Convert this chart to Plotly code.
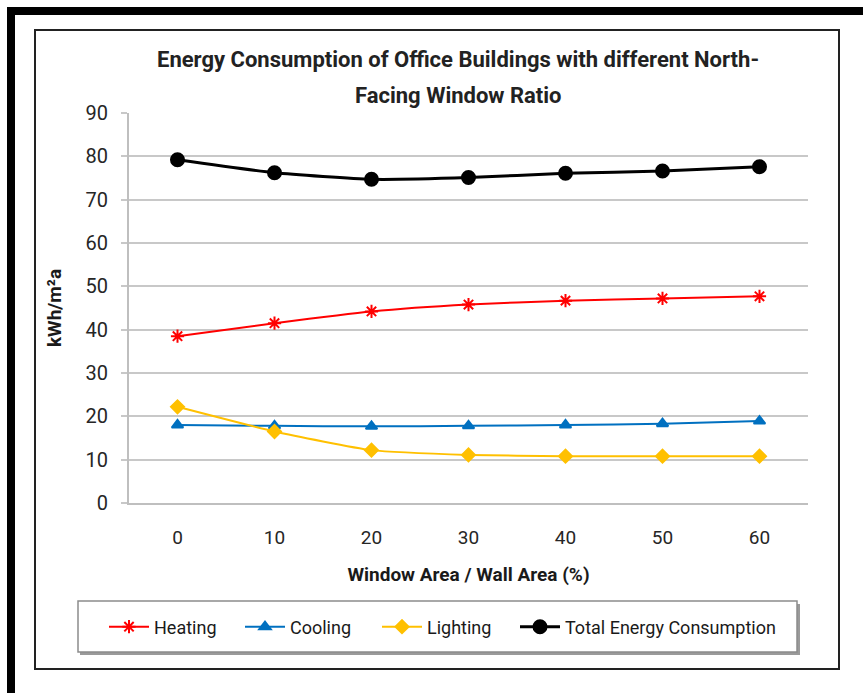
import plotly.graph_objects as go

# values (kWh/m²a)
window_ratio = [0, 10, 20, 30, 40, 50, 60]
heating = [38.5, 41.5, 44.2, 45.8, 46.7, 47.2, 47.7]
cooling = [18.0, 17.8, 17.7, 17.8, 18.0, 18.3, 18.9]
lighting = [22.2, 16.5, 12.2, 11.1, 10.8, 10.8, 10.8]
total = [79.2, 76.2, 74.7, 75.1, 76.1, 76.6, 77.6]

title_lines = ["Energy Consumption of Office Buildings with different North-", "Facing Window Ratio"]

FONT = "Roboto, Liberation Sans, sans-serif"
W, H = 863, 693
L, R, T, B = 129, 55, 113, 190
pw, ph = W - L - R, H - T - B


def px_x(x):
    return (x - L) / pw


def px_y(y):
    return (H - B - y) / ph


fig = go.Figure()
# name, values, colour, marker, size, line width, legend id, legend left edge (px)
series = [
    ("Heating", heating, "#FF0000", "asterisk-open", 11, 2, "legend", 104),
    ("Cooling", cooling, "#0070C0", "triangle-up", 10, 2, "legend2", 240),
    ("Lighting", lighting, "#FFC000", "diamond", 10, 2, "legend3", 377),
    ("Total Energy Consumption", total, "#000000", "circle", 13, 3, "legend4", 515),
]
legends = {}
for name, vals, col, sym, size, lw, leg, lx in series:
    fig.add_trace(go.Scatter(
        x=[str(v) for v in window_ratio], y=vals, name=name, mode="lines+markers",
        line=dict(color=col, width=lw, shape="spline", smoothing=0.5),
        marker=dict(color=col, symbol=sym, size=size, line=dict(color=col, width=2)),
        legend=leg,
    ))
    legends[leg] = dict(orientation="h", x=px_x(lx), xanchor="left", y=px_y(627), yanchor="middle",
                        bgcolor="rgba(0,0,0,0)", borderwidth=0, font=dict(size=18, color="#1a1a1a"),
                        itemwidth=40)

shapes = [
    # thick black edges of the scanned page
    dict(type="rect", xref="paper", yref="paper", x0=px_x(7), x1=px_x(870), y0=px_y(7), y1=px_y(15),
         fillcolor="black", line_width=0, layer="below"),
    dict(type="rect", xref="paper", yref="paper", x0=px_x(7), x1=px_x(15), y0=px_y(7), y1=px_y(700),
         fillcolor="black", line_width=0, layer="below"),
    # chart frame
    dict(type="rect", xref="paper", yref="paper", x0=px_x(35), x1=px_x(839), y0=px_y(30), y1=px_y(669),
         line=dict(color="#222222", width=2), layer="below"),
    # legend shadow + box
    dict(type="rect", xref="paper", yref="paper", x0=px_x(80), x1=px_x(800), y0=px_y(604), y1=px_y(655),
         fillcolor="#9a9a9a", line_width=0, layer="below"),
    dict(type="rect", xref="paper", yref="paper", x0=px_x(78), x1=px_x(797), y0=px_y(601), y1=px_y(652),
         fillcolor="white", line=dict(color="#8c8c8c", width=1.5), layer="below"),
]

annotations = [
    dict(text=title_lines[0], xref="paper", yref="paper", x=px_x(458), y=px_y(59),
         xanchor="center", yanchor="middle", showarrow=False,
         font=dict(size=22, color="#222222", weight="bold")),
    dict(text=title_lines[1], xref="paper", yref="paper", x=px_x(458), y=px_y(96),
         xanchor="center", yanchor="middle", showarrow=False,
         font=dict(size=22, color="#222222", weight="bold")),
]

fig.update_layout(
    width=W, height=H,
    margin=dict(l=L, r=R, t=T, b=B, autoexpand=False),
    paper_bgcolor="white", plot_bgcolor="white",
    font=dict(family=FONT, color="#262626", size=18),
    shapes=shapes,
    annotations=annotations,
    showlegend=True,
    **legends,
)
fig.update_xaxes(
    type="category", showgrid=False, showline=True, linecolor="#bfbfbf", linewidth=2,
    ticks="", ticklabelstandoff=16, tickfont=dict(size=19),
    title=dict(text="<b>Window Area / Wall Area (%)</b>", font=dict(size=19, color="#1a1a1a"), standoff=20),
    range=[-0.5, 6.5],
)
fig.update_yaxes(
    range=[0, 90], dtick=10, showgrid=True, gridcolor="#c8c8c8", gridwidth=2,
    showline=True, linecolor="#bfbfbf", linewidth=2, zeroline=False,
    ticks="outside", ticklen=6, tickcolor="#c8c8c8", tickwidth=2, ticklabelstandoff=9,
    tickfont=dict(size=20),
    title=dict(text="<b>kWh/m²a</b>", font=dict(size=19, color="#1a1a1a"), standoff=19),
)

fig.write_html("out.html", config={"displayModeBar": False},
               post_script="document.body.style.margin='0';document.body.style.overflow='hidden';")
